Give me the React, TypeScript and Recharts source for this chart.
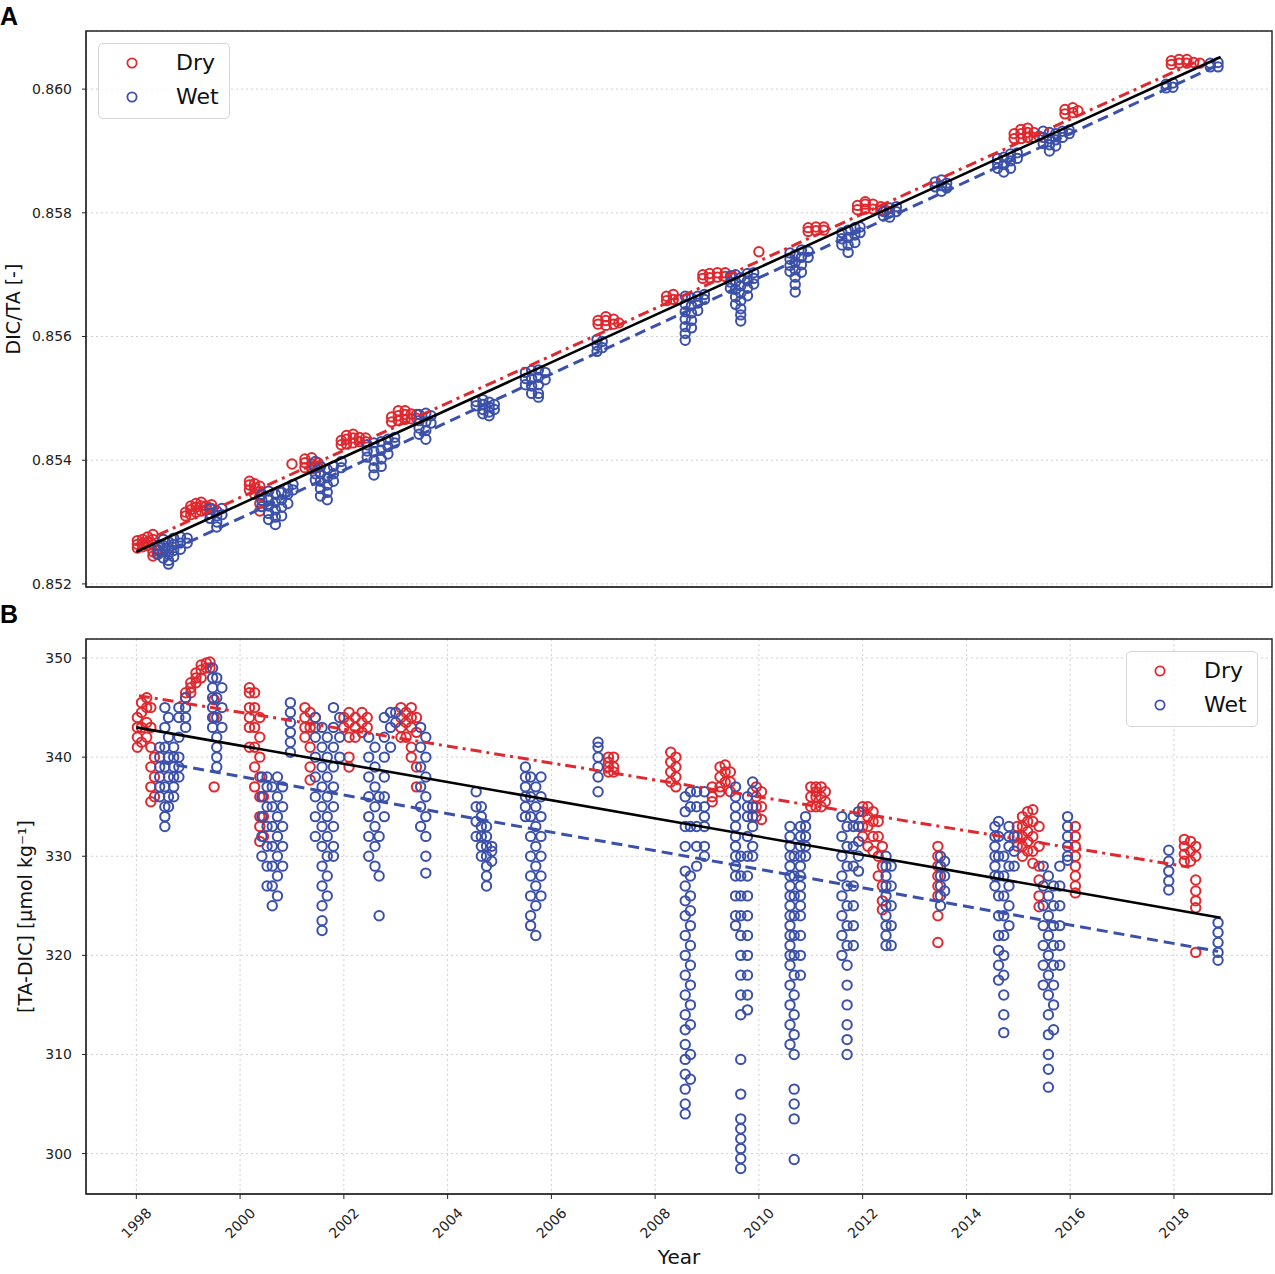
import React from "react";
import { ScatterChart, Scatter, XAxis, YAxis, CartesianGrid, ReferenceArea, Legend } from "recharts";

// one column = one sampling time with the values measured at it
type Col = [number, number[]];

const yearTicks = [1998, 2000, 2002, 2004, 2006, 2008, 2010, 2012, 2014, 2016, 2018];
const ratioTicks = [0.852, 0.854, 0.856, 0.858, 0.86];
const gapTicks = [300, 310, 320, 330, 340, 350];

const DRY = "#e0282e";
const WET = "#3b50aa";
const FONT = "DejaVu Sans, sans-serif";

// panel A: DIC/TA
const dryRatioCols: Col[] = [
  [1998.02, [0.85258, 0.85264, 0.8527]],
  [1998.12, [0.8526, 0.85266, 0.85272]],
  [1998.22, [0.85262, 0.85268, 0.85276]],
  [1998.32, [0.85264, 0.85272, 0.8528, 0.85252, 0.85245]],
  [1998.4, [0.85255, 0.85248]],
  [1998.95, [0.8531, 0.85316]],
  [1999.05, [0.85312, 0.8532, 0.85326]],
  [1999.15, [0.85316, 0.85324, 0.8533]],
  [1999.25, [0.85318, 0.85326, 0.85332]],
  [1999.35, [0.8532, 0.85326]],
  [1999.45, [0.85322, 0.85328]],
  [2000.18, [0.85352, 0.8536, 0.85366]],
  [2000.28, [0.85345, 0.85355, 0.85362]],
  [2000.38, [0.85342, 0.8535, 0.85358, 0.8533, 0.85318]],
  [2001.0, [0.85394]],
  [2001.25, [0.85388, 0.85396, 0.85402]],
  [2001.38, [0.85386, 0.85394, 0.85404]],
  [2001.5, [0.85388, 0.85396]],
  [2001.95, [0.85425, 0.85432]],
  [2002.05, [0.85426, 0.85434, 0.8544]],
  [2002.18, [0.85428, 0.85436, 0.85442]],
  [2002.3, [0.8543, 0.85437]],
  [2002.42, [0.8543, 0.85436]],
  [2002.92, [0.85462, 0.8547]],
  [2003.05, [0.85464, 0.85472, 0.8548]],
  [2003.18, [0.85466, 0.85474, 0.8548]],
  [2003.3, [0.85467, 0.85475]],
  [2003.4, [0.85468, 0.85474]],
  [2006.9, [0.8562, 0.85626]],
  [2007.05, [0.85618, 0.85626, 0.85632]],
  [2007.2, [0.8562, 0.85628]],
  [2007.3, [0.85622]],
  [2008.22, [0.85658, 0.85665]],
  [2008.35, [0.8566, 0.85668]],
  [2008.45, [0.8566]],
  [2008.92, [0.85694, 0.857]],
  [2009.05, [0.85695, 0.85702]],
  [2009.2, [0.85696, 0.85703]],
  [2009.35, [0.85697, 0.85703]],
  [2009.48, [0.85698]],
  [2010.0, [0.85737]],
  [2010.95, [0.8577, 0.85776]],
  [2011.1, [0.85771, 0.85777]],
  [2011.25, [0.85772, 0.85777]],
  [2011.9, [0.85805, 0.85812]],
  [2012.05, [0.85806, 0.85814, 0.85818]],
  [2012.2, [0.85806, 0.85814]],
  [2012.35, [0.85804, 0.8581]],
  [2012.45, [0.85804]],
  [2014.92, [0.8592, 0.85928]],
  [2015.05, [0.8592, 0.85928, 0.85935]],
  [2015.18, [0.85922, 0.8593, 0.85937]],
  [2015.3, [0.85922, 0.8593]],
  [2015.4, [0.85924]],
  [2015.9, [0.8596, 0.85967]],
  [2016.05, [0.85962, 0.8597]],
  [2016.15, [0.85965]],
  [2017.95, [0.8604, 0.86046]],
  [2018.1, [0.86042, 0.86048]],
  [2018.25, [0.86042, 0.86048]],
  [2018.38, [0.86043]],
  [2018.5, [0.86042]],
];

const wetRatioCols: Col[] = [
  [1998.42, [0.85262, 0.85255, 0.85248]],
  [1998.52, [0.85272, 0.85262, 0.85252, 0.85242]],
  [1998.62, [0.85268, 0.85258, 0.85248, 0.85238, 0.85232]],
  [1998.72, [0.85274, 0.85264, 0.85254, 0.85244]],
  [1998.85, [0.85276, 0.85266, 0.85256]],
  [1998.98, [0.85274, 0.85266]],
  [1999.42, [0.85322, 0.85314, 0.85306]],
  [1999.55, [0.85318, 0.8531, 0.853, 0.85292]],
  [1999.65, [0.85322, 0.85312]],
  [2000.42, [0.85345, 0.85335, 0.85325]],
  [2000.55, [0.8535, 0.85338, 0.85326, 0.85314, 0.85304]],
  [2000.68, [0.85345, 0.85332, 0.8532, 0.85308, 0.85296]],
  [2000.8, [0.85348, 0.85336, 0.85324, 0.8531]],
  [2000.92, [0.85355, 0.85345, 0.8533]],
  [2001.02, [0.85361, 0.85352]],
  [2001.45, [0.85398, 0.85388, 0.85378, 0.85368]],
  [2001.55, [0.8539, 0.85378, 0.85366, 0.85354, 0.85342]],
  [2001.68, [0.85385, 0.85372, 0.8536, 0.85348, 0.85336]],
  [2001.8, [0.8539, 0.85378, 0.85366]],
  [2001.95, [0.85398, 0.85388]],
  [2002.45, [0.85425, 0.85415, 0.85405]],
  [2002.58, [0.85428, 0.85414, 0.854, 0.85388, 0.85376]],
  [2002.72, [0.8543, 0.85416, 0.85402, 0.8539]],
  [2002.85, [0.85434, 0.85422, 0.8541]],
  [2002.98, [0.85437, 0.85428]],
  [2003.45, [0.85474, 0.85464, 0.85452, 0.85442]],
  [2003.58, [0.85476, 0.85462, 0.85448, 0.85434]],
  [2003.68, [0.85472, 0.8546]],
  [2004.55, [0.85495, 0.85488]],
  [2004.68, [0.85498, 0.8549, 0.85482, 0.85475]],
  [2004.8, [0.85494, 0.85486, 0.85478, 0.85472]],
  [2004.9, [0.8549, 0.85482]],
  [2005.5, [0.85542, 0.85532, 0.85522]],
  [2005.62, [0.85545, 0.85532, 0.8552, 0.85508]],
  [2005.75, [0.85546, 0.85534, 0.85522, 0.85508, 0.85502]],
  [2005.88, [0.85542, 0.8553]],
  [2006.88, [0.85595, 0.85586, 0.85576]],
  [2006.98, [0.85592, 0.85582]],
  [2008.58, [0.85665, 0.85652, 0.8564, 0.85628, 0.85616, 0.85605, 0.85594]],
  [2008.7, [0.85662, 0.8565, 0.85638, 0.85626, 0.85614]],
  [2008.82, [0.85665, 0.85654, 0.85642]],
  [2008.95, [0.85668, 0.8566]],
  [2009.45, [0.85698, 0.85688, 0.85678]],
  [2009.55, [0.857, 0.85688, 0.85676, 0.85664, 0.85652]],
  [2009.65, [0.85695, 0.85682, 0.8567, 0.85658, 0.85645, 0.85635, 0.85625]],
  [2009.78, [0.85702, 0.8569, 0.85678, 0.85666]],
  [2009.9, [0.85703, 0.85694, 0.85685]],
  [2010.6, [0.85735, 0.85725, 0.85715, 0.85705]],
  [2010.7, [0.85732, 0.8572, 0.85708, 0.85696, 0.85684, 0.85672]],
  [2010.82, [0.8574, 0.85728, 0.85716, 0.85704]],
  [2010.95, [0.85738, 0.85728]],
  [2011.6, [0.85768, 0.85758, 0.85748]],
  [2011.72, [0.85772, 0.8576, 0.85748, 0.85736]],
  [2011.85, [0.85776, 0.85764, 0.85752]],
  [2011.95, [0.85777, 0.85768]],
  [2012.4, [0.85802, 0.85795]],
  [2012.52, [0.85808, 0.858, 0.85793]],
  [2012.65, [0.8581, 0.85802]],
  [2013.4, [0.8585, 0.85842]],
  [2013.52, [0.85853, 0.85844, 0.85835]],
  [2013.62, [0.85848, 0.8584]],
  [2014.6, [0.85888, 0.8588, 0.85872]],
  [2014.72, [0.8589, 0.85878, 0.85866]],
  [2014.85, [0.85895, 0.85884, 0.85872]],
  [2014.98, [0.85897, 0.85888]],
  [2015.48, [0.85932, 0.85922, 0.85912]],
  [2015.6, [0.8593, 0.8592, 0.8591, 0.859]],
  [2015.72, [0.85928, 0.85918, 0.85908]],
  [2015.85, [0.85932, 0.85922]],
  [2015.98, [0.85934, 0.85928]],
  [2017.85, [0.86002, 0.86008]],
  [2017.98, [0.86003, 0.8601]],
  [2018.7, [0.86036, 0.86042]],
  [2018.85, [0.86036, 0.86043]],
];

const dryRatioFit: [number, number][] = [[1998.0, 0.85263], [2018.5, 0.86047]];
const wetRatioFit: [number, number][] = [[1998.4, 0.85244], [2018.85, 0.86039]];
const allRatioFit: [number, number][] = [[1998.0, 0.85252], [2018.9, 0.86052]];

// panel B: TA-DIC
const dryGapCols: Col[] = [
  [1998.02, [341, 342, 343, 344]],
  [1998.1, [341.5, 343, 344.5, 345.5]],
  [1998.2, [342, 343.5, 345, 346]],
  [1998.28, [345, 343, 341, 339, 337, 335.5]],
  [1998.35, [340, 338, 336]],
  [1998.95, [346, 346.5]],
  [1999.05, [346.5, 347, 347.5]],
  [1999.15, [347.5, 348, 348.5]],
  [1999.25, [348, 348.8, 349.3]],
  [1999.35, [349, 349.5]],
  [1999.42, [349.6, 349]],
  [1999.5, [345.8, 344, 337]],
  [2000.18, [347, 346.5, 345, 344, 343, 341]],
  [2000.28, [346.5, 345, 343, 341, 339, 337]],
  [2000.38, [344, 342, 340, 338, 336, 334, 333, 331.5]],
  [2000.45, [336, 334, 332]],
  [2001.25, [345, 344, 343, 342]],
  [2001.35, [344.5, 343, 341, 339, 337.7]],
  [2001.45, [344, 343]],
  [2002.0, [344, 343]],
  [2002.1, [344.5, 343.5, 342, 340, 339]],
  [2002.22, [344, 343, 342]],
  [2002.35, [344.5, 343.5, 342.5]],
  [2002.45, [344, 343]],
  [2003.1, [345, 344, 343, 342]],
  [2003.2, [344.5, 343.5, 342]],
  [2003.3, [345, 344, 343, 341, 340]],
  [2003.4, [344, 342.5, 339, 337]],
  [2007.1, [340, 339.5, 339, 338.5]],
  [2007.2, [340, 339, 338.5]],
  [2008.3, [340.5, 339.5, 338.5, 337.5]],
  [2008.4, [340, 339, 338, 337]],
  [2009.1, [337, 336, 335.5]],
  [2009.25, [339, 338, 337, 336.5]],
  [2009.35, [339.2, 338.5, 337.5]],
  [2009.45, [338.5, 337.5, 336.5]],
  [2009.95, [337, 336, 335, 334]],
  [2010.05, [336.5, 335, 333.7]],
  [2011.0, [337, 336, 335]],
  [2011.1, [337, 336.5, 336, 335]],
  [2011.2, [337, 336, 335]],
  [2011.28, [336.5, 335.5]],
  [2012.0, [335, 334.5, 333, 332]],
  [2012.1, [335, 334, 333, 331]],
  [2012.2, [334.5, 333.5, 332, 330.5]],
  [2012.3, [333.5, 332, 330, 328]],
  [2012.38, [331, 329, 327, 325.5, 324.6]],
  [2013.45, [331, 330, 329, 328, 327, 326, 324, 321.3]],
  [2014.98, [333, 332, 331]],
  [2015.08, [334, 333, 332, 331, 330]],
  [2015.18, [334.5, 333.5, 332.5, 331.5, 330.5]],
  [2015.28, [334.7, 333.5, 332, 330.5, 329.3]],
  [2015.4, [333, 331, 329, 327.6, 326, 324.9]],
  [2016.1, [333, 332, 331, 330, 329, 328, 327, 326.3]],
  [2018.2, [331.7, 331, 330.2, 329.5]],
  [2018.32, [331.5, 330.5, 329.5]],
  [2018.42, [331, 330, 327.6, 326.5, 325.5, 324.8, 320.3]],
];

const wetGapCols: Col[] = [
  [1998.45, [341, 340, 339, 338, 337, 336]],
  [1998.55, [345, 343, 341, 339, 337, 335, 334, 333]],
  [1998.62, [344, 342, 340, 338, 336, 335]],
  [1998.72, [341, 340, 339, 338, 337, 336]],
  [1998.82, [345, 344, 342, 340, 339, 338]],
  [1998.95, [346, 345, 344, 343]],
  [1999.47, [349, 348, 347, 346, 345, 344, 343]],
  [1999.55, [348, 346, 344, 342, 341, 340, 339]],
  [1999.65, [347, 345, 343]],
  [2000.42, [338, 336, 334, 332, 330]],
  [2000.52, [338, 337, 335, 333, 331, 329, 327]],
  [2000.62, [337, 335, 333, 331, 329, 327, 325]],
  [2000.72, [338, 336, 334, 332, 330, 328, 326]],
  [2000.82, [337, 335, 333, 331, 329]],
  [2000.97, [345.5, 344.5, 343.5, 342.5, 341.5, 340.5]],
  [2001.45, [344, 342, 340, 338, 336, 334, 332]],
  [2001.58, [343, 341, 339, 337, 335, 333, 331, 329, 327, 325, 323.5, 322.5]],
  [2001.68, [342, 340, 338, 336, 334, 332, 330, 328, 326]],
  [2001.8, [345, 343, 341, 339, 337, 335, 333, 331, 330]],
  [2001.92, [344, 342, 340]],
  [2002.48, [342, 340, 338, 336, 334, 332, 330]],
  [2002.6, [341, 339, 337, 335, 333, 331, 329]],
  [2002.68, [336, 332, 328, 324]],
  [2002.78, [344, 342, 340, 338, 336, 334]],
  [2002.9, [344.5, 343, 341]],
  [2003.0, [344.5, 343.5]],
  [2003.48, [343, 341, 339, 337, 335, 333]],
  [2003.58, [342, 340, 338, 336, 334, 332, 330, 328.3]],
  [2004.55, [336.5, 335, 333.5, 332]],
  [2004.65, [335, 334, 333, 332, 331, 330]],
  [2004.75, [333, 332, 331, 330, 329, 328, 327]],
  [2004.85, [331, 330.5, 329.5]],
  [2005.5, [339, 338, 337, 336, 335, 334]],
  [2005.6, [338, 336, 334, 332, 330, 328, 326, 324, 323]],
  [2005.7, [337, 335, 333, 331, 329, 327, 325, 322]],
  [2005.8, [338, 336, 334, 332, 330, 328, 326]],
  [2006.9, [341.5, 341, 340, 339, 338, 336.5]],
  [2008.58, [336, 334.5, 333, 331, 328.5, 327, 325.5, 324, 322, 320, 318, 316, 314, 312.5, 311, 309.5, 308, 306.5, 305, 304]],
  [2008.68, [336.5, 335, 333, 328, 326, 324.5, 323, 321, 319, 317, 315, 313, 310, 307.5]],
  [2008.8, [336.5, 335, 333, 331, 329]],
  [2008.95, [336.5, 335, 334, 333, 331, 330]],
  [2009.55, [337, 336, 335, 334, 333, 332, 331, 330, 329, 328, 326, 324, 323]],
  [2009.65, [330, 328, 326, 324, 322, 320, 318, 316, 314, 309.5, 306, 303.5, 302.5, 301.5, 300.5, 299.5, 298.5]],
  [2009.78, [336, 335, 334, 332, 330, 328, 326, 324, 322, 320, 318, 316, 314.5]],
  [2009.88, [337.5, 336.5, 335, 334, 333, 331, 330]],
  [2010.6, [333, 332, 331, 330, 329, 328, 327, 326, 325, 324, 323, 322, 321, 320, 319, 317, 315, 313, 311]],
  [2010.68, [330, 328, 326, 324, 322, 320, 318, 316, 314, 312, 310, 306.5, 305, 303.5, 299.4]],
  [2010.8, [333, 332, 331, 330, 329, 328, 327, 326, 325, 324, 322, 320, 318]],
  [2010.9, [334, 333, 332, 331, 330]],
  [2011.6, [334, 332, 330, 328, 326, 324, 322, 320]],
  [2011.7, [333, 331, 329, 327, 325, 323, 321, 319, 317, 315, 313, 311.5, 310]],
  [2011.82, [334, 333, 331, 329, 327, 325, 323, 321]],
  [2011.92, [334.5, 333, 331.5, 330, 328.5]],
  [2012.45, [330, 329, 328, 327, 326, 325, 324, 323, 322, 321]],
  [2012.55, [329, 327, 325, 323, 321]],
  [2013.5, [330, 329, 328, 327, 326, 325]],
  [2013.58, [329.5, 328, 326.5]],
  [2014.55, [333, 332, 331, 330, 329, 328, 327]],
  [2014.62, [333.5, 332, 330, 328, 326, 324, 322, 320.5, 319, 317.5]],
  [2014.72, [330, 328, 326, 324, 322, 320, 318, 316, 314, 312.2]],
  [2014.82, [333, 332, 331, 329, 327, 325, 323]],
  [2014.92, [332, 330.5, 329]],
  [2015.48, [329, 327, 325, 323, 321, 319, 317]],
  [2015.58, [328, 326, 324, 322, 320, 318, 316, 314, 312, 310, 308.5, 306.7]],
  [2015.68, [327, 325, 323, 321, 319, 317, 315, 312.5]],
  [2015.8, [329, 327, 325, 323, 321, 319]],
  [2015.95, [334, 333, 332, 331, 330, 329.6]],
  [2017.9, [330.6, 329.5, 328.5, 327.5, 326.6]],
  [2018.85, [323.3, 322.3, 321.3, 320.3, 319.5]],
];

const dryGapFit: [number, number][] = [[1998.05, 346.2], [2018.3, 328.9]];
const wetGapFit: [number, number][] = [[1998.45, 339.5], [2018.85, 320.4]];
const allGapFit: [number, number][] = [[1998.0, 343.0], [2018.9, 323.8]];

const toPoints = (cols: Col[]) => cols.flatMap(([x, ys]) => ys.map((y) => ({ x, y })));
const toLine = (pts: [number, number][]) => pts.map(([x, y]) => ({ x, y }));

const ring = (color: string) => (p: any) => (
  <circle cx={p.cx} cy={p.cy} r={4.7} fill="none" stroke={color} strokeWidth={2} />
);
const noMark = () => <g />;

function LegendBox() {
  const row = (color: string, label: string, top: number) => (
    <div style={{ position: "absolute", left: 0, top, height: 30, width: "100%" }}>
      <svg width={66} height={30} style={{ position: "absolute", left: 0, top: 0 }}>
        <circle cx={33} cy={15} r={4.6} fill="none" stroke={color} strokeWidth={1.8} />
      </svg>
      <span
        style={{
          position: "absolute",
          left: 77,
          top: 0,
          lineHeight: "30px",
          fontSize: 22,
          fontFamily: FONT,
          color: "#111",
        }}
      >
        {label}
      </span>
    </div>
  );
  return (
    <div
      style={{
        position: "relative",
        width: 132,
        height: 76,
        boxSizing: "border-box",
        border: "1px solid #d6d6d6",
        borderRadius: 5,
        background: "rgba(255,255,255,0.85)",
      }}
    >
      {row(DRY, "Dry", 4)}
      {row(WET, "Wet", 38)}
    </div>
  );
}

function YearTick(props: any) {
  const { x, y, payload } = props;
  const cy = y + 22;
  return (
    <text
      x={x}
      y={cy}
      textAnchor="middle"
      dominantBaseline="central"
      transform={`rotate(-45, ${x}, ${cy})`}
      fontSize={14}
      fontFamily={FONT}
      fill="#222"
    >
      {payload.value}
    </text>
  );
}

const xDomain: [number, number] = [1997.03, 2019.89];
const tickStyle = { fontSize: 14, fontFamily: FONT, fill: "#222" };

export default function App() {
  return (
    <div style={{ position: "absolute", left: 0, top: 0, width: 1275, height: 1274, background: "#fff" }}>
      <div style={{ position: "absolute", left: 0, top: 0 }}>
        <ScatterChart width={1275} height={600} margin={{ top: 31, right: 3, bottom: 0, left: 0 }}>
          <CartesianGrid stroke="#cfcfcf" strokeDasharray="2 3" />
          <XAxis
            type="number"
            dataKey="x"
            domain={xDomain}
            ticks={yearTicks}
            allowDataOverflow
            height={13}
            tick={false}
            tickSize={5}
            axisLine={{ stroke: "#222" }}
            tickLine={{ stroke: "#222" }}
          />
          <YAxis
            type="number"
            dataKey="y"
            domain={[0.85195, 0.86094]}
            ticks={ratioTicks}
            allowDataOverflow
            width={86}
            tickSize={4}
            tickMargin={10}
            tick={tickStyle}
            tickFormatter={(v: number) => v.toFixed(3)}
            axisLine={{ stroke: "#222" }}
            tickLine={{ stroke: "#222" }}
          />
          <Scatter name="Dry" data={toPoints(dryRatioCols)} shape={ring(DRY)} isAnimationActive={false} />
          <Scatter name="Wet" data={toPoints(wetRatioCols)} shape={ring(WET)} isAnimationActive={false} />
          <Scatter
            data={toLine(dryRatioFit)}
            shape={noMark}
            line={{ stroke: DRY, strokeWidth: 3, strokeDasharray: "11 5 3 5" }}
            lineType="joint"
            legendType="none"
            isAnimationActive={false}
          />
          <Scatter
            data={toLine(wetRatioFit)}
            shape={noMark}
            line={{ stroke: WET, strokeWidth: 3, strokeDasharray: "11 6" }}
            lineType="joint"
            legendType="none"
            isAnimationActive={false}
          />
          <Scatter
            data={toLine(allRatioFit)}
            shape={noMark}
            line={{ stroke: "#000", strokeWidth: 2.6 }}
            lineType="joint"
            legendType="none"
            isAnimationActive={false}
          />
          <ReferenceArea x1={xDomain[0]} x2={xDomain[1]} y1={0.85195} y2={0.86094} fill="none" stroke="#222" strokeWidth={1.4} />
          <Legend
            layout="horizontal"
            verticalAlign="middle"
            align="center"
            wrapperStyle={{ left: 98, top: 43, width: 132, height: 76 }}
            content={() => <LegendBox />}
          />
          <text x={0} y={25} fontSize={25} fontWeight="bold" fontFamily="Liberation Sans, Arial, sans-serif" fill="#000">
            A
          </text>
          <text
            x={13}
            y={309}
            transform="rotate(-90 13 309)"
            textAnchor="middle"
            dominantBaseline="central"
            fontSize={19}
            fontFamily={FONT}
            fill="#111"
          >
            DIC/TA [-]
          </text>
        </ScatterChart>
      </div>

      <div style={{ position: "absolute", left: 0, top: 600 }}>
        <ScatterChart width={1275} height={674} margin={{ top: 39, right: 3, bottom: 0, left: 0 }}>
          <CartesianGrid stroke="#cfcfcf" strokeDasharray="2 3" />
          <XAxis
            type="number"
            dataKey="x"
            domain={xDomain}
            ticks={yearTicks}
            allowDataOverflow
            height={80}
            tickSize={5}
            tickMargin={2}
            tick={(p: any) => <YearTick {...p} />}
            axisLine={{ stroke: "#222" }}
            tickLine={{ stroke: "#222" }}
          />
          <YAxis
            type="number"
            dataKey="y"
            domain={[295.92, 351.92]}
            ticks={gapTicks}
            allowDataOverflow
            width={86}
            tickSize={4}
            tickMargin={10}
            tick={tickStyle}
            axisLine={{ stroke: "#222" }}
            tickLine={{ stroke: "#222" }}
          />
          <Scatter name="Dry" data={toPoints(dryGapCols)} shape={ring(DRY)} isAnimationActive={false} />
          <Scatter name="Wet" data={toPoints(wetGapCols)} shape={ring(WET)} isAnimationActive={false} />
          <Scatter
            data={toLine(dryGapFit)}
            shape={noMark}
            line={{ stroke: DRY, strokeWidth: 3, strokeDasharray: "11 5 3 5" }}
            lineType="joint"
            legendType="none"
            isAnimationActive={false}
          />
          <Scatter
            data={toLine(wetGapFit)}
            shape={noMark}
            line={{ stroke: WET, strokeWidth: 3, strokeDasharray: "11 6" }}
            lineType="joint"
            legendType="none"
            isAnimationActive={false}
          />
          <Scatter
            data={toLine(allGapFit)}
            shape={noMark}
            line={{ stroke: "#000", strokeWidth: 2.6 }}
            lineType="joint"
            legendType="none"
            isAnimationActive={false}
          />
          <ReferenceArea x1={xDomain[0]} x2={xDomain[1]} y1={295.92} y2={351.92} fill="none" stroke="#222" strokeWidth={1.4} />
          <Legend
            layout="horizontal"
            verticalAlign="middle"
            align="center"
            wrapperStyle={{ left: 1126, top: 51, width: 134, height: 74 }}
            content={() => <LegendBox />}
          />
          <text x={0} y={23} fontSize={25} fontWeight="bold" fontFamily="Liberation Sans, Arial, sans-serif" fill="#000">
            B
          </text>
          <text
            x={25}
            y={316.5}
            transform="rotate(-90 25 316.5)"
            textAnchor="middle"
            dominantBaseline="central"
            fontSize={19}
            fontFamily={FONT}
            fill="#111"
          >
            [TA-DIC] [μmol kg⁻¹]
          </text>
          <text x={679} y={664} textAnchor="middle" fontSize={20} fontFamily={FONT} fill="#111">
            Year
          </text>
        </ScatterChart>
      </div>
    </div>
  );
}
